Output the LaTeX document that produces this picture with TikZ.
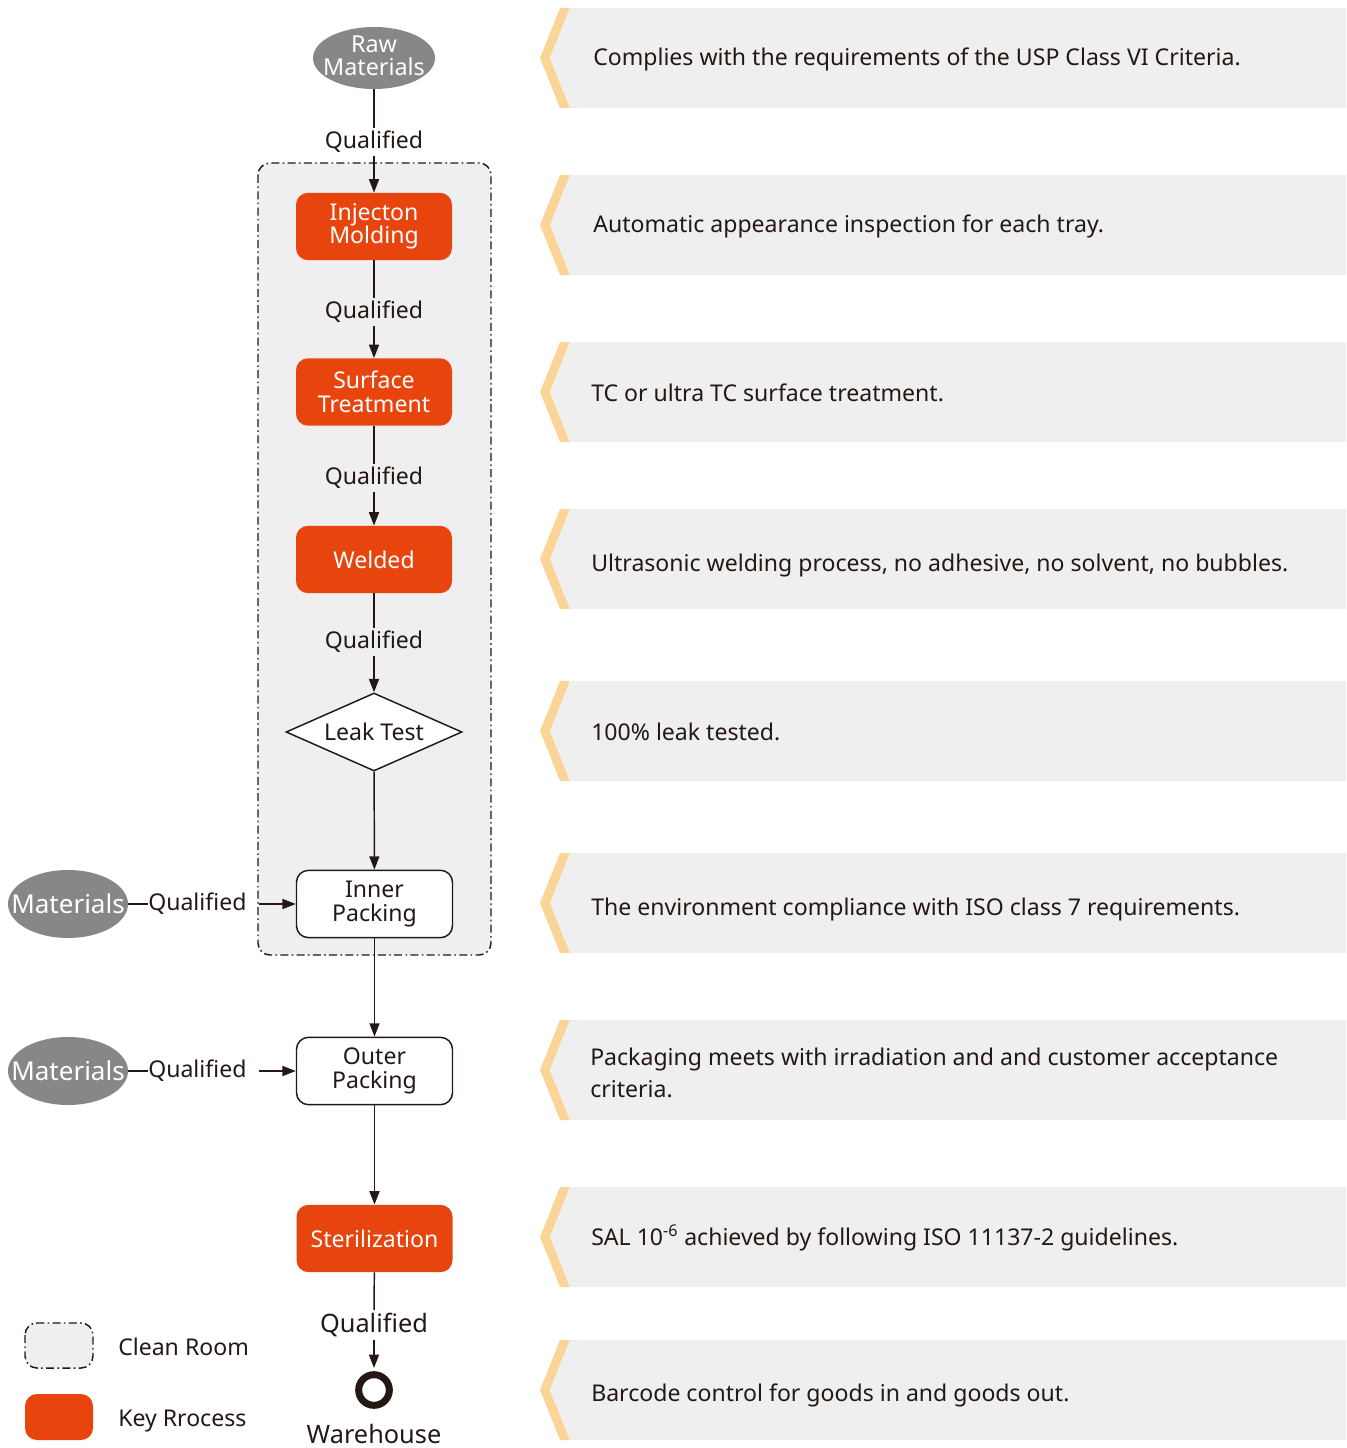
\documentclass[tikz,border=0pt]{standalone}
\usepackage{fontspec}
\setmainfont{Noto Sans}
\usetikzlibrary{shapes.geometric,arrows.meta}
\definecolor{keyor}{HTML}{E8450E}
\definecolor{panelgray}{HTML}{EEEFEE}
\definecolor{stripe}{HTML}{FAD597}
\definecolor{ellgray}{HTML}{878787}
\definecolor{dark}{HTML}{231815}
\tikzset{
  fnt/.style={font=\fontsize{17.3}{17.6}\selectfont},
  ptxt/.style={fnt, text=dark, anchor=west, inner sep=0pt, align=left},
  ellfill/.style={ellipse, fill=ellgray, inner sep=0pt, minimum width=#1},
  ellfill/.default=91.5pt,
  ell text/.style={font=\fontsize{17.5}{17.4}\selectfont, text=white, align=center, inner sep=0pt},
  keybox/.style={rectangle, rounded corners=9pt, fill=keyor, text=white, fnt, align=center, minimum width=117pt, minimum height=50.5pt, inner sep=0pt},
  whitebox/.style={rectangle, rounded corners=9pt, draw=dark, line width=1.1pt, fill=white, text=dark, fnt, align=center, minimum width=117pt, minimum height=50.5pt, inner sep=0pt},
  qlab/.style={fnt, text=dark, inner xsep=0pt, inner ysep=2pt},
  conn/.style={draw=dark, line width=1.1pt},
  arr/.style={conn, -{Triangle[length=10pt,width=7.5pt]}},
  cleanroom/.style={draw=dark, line width=1.1pt, fill=panelgray, rounded corners=9pt, dash pattern=on 6pt off 2.5pt on 1.2pt off 2.5pt},
  chev/.pic={
    \fill[stripe] (20,-50) -- (30,-50) -- (10,0) -- (30,50) -- (20,50) -- (0,0) -- cycle;
    \fill[panelgray] (30,-50) -- (806,-50) -- (806,50) -- (30,50) -- (10,0) -- cycle;
  }
}
\begin{document}
\begin{tikzpicture}[x=0.75pt,y=-0.75pt]
\useasboundingbox (0,0) rectangle (1346,1448);
% right panels
\pic at (540,58) {chev};
\pic at (540,225) {chev};
\pic at (540,392) {chev};
\pic at (540,559) {chev};
\pic at (540,731) {chev};
\pic at (540,903) {chev};
\pic at (540,1070) {chev};
\pic at (540,1237) {chev};
\pic at (540,1390) {chev};
\node[ptxt] (p1) at (593,59) {Complies with the requirements of the USP Class VI Criteria.};
\node[ptxt] (p2) at (593,226) {Automatic appearance inspection for each tray.};
\node[ptxt] (p3) at (591,393) {TC or ultra TC surface treatment.};
\node[ptxt] (p4) at (591,565) {Ultrasonic welding process, no adhesive, no solvent, no bubbles.};
\node[ptxt] (p5) at (591,732) {100\% leak tested.};
\node[ptxt] (p6) at (591,909) {The environment compliance with ISO class 7 requirements.};
\node[ptxt, font=\fontsize{17.3}{24}\selectfont] (p7) at (590,1073) {Packaging meets with irradiation and and customer acceptance\\criteria.};
\node[ptxt] (p8) at (591,1238) {SAL 10\textsuperscript{-6} achieved by following ISO 11137-2 guidelines.};
\node[ptxt] (p9) at (591,1395) {Barcode control for goods in and goods out.};
% clean room
\draw[cleanroom] (258,163) rectangle (491,955);
% flow nodes
\node[ellfill, minimum height=46.5pt] (raw) at (374,58) {};
\node[ell text] (rawt) at (374,55.5) {Raw\\Materials};
\node[qlab] (q1) at (374,142) {Qualified};
\node[keybox] (inj) at (374,226.5) {Injecton\\Molding};
\node[qlab] (q2) at (374,312) {Qualified};
\node[keybox] (surf) at (374,392) {Surface\\Treatment};
\node[qlab] (q3) at (374,478) {Qualified};
\node[keybox] (weld) at (374,559.5) {Welded};
\node[qlab] (q4) at (374,642) {Qualified};
\node[diamond, draw=dark, line width=1.1pt, fill=white, aspect=2.26, minimum width=132pt, minimum height=58.5pt, inner sep=0pt, fnt, text=dark] (leak) at (374,732) {Leak Test};
\node[whitebox] (inner) at (374.5,904) {Inner\\Packing};
\node[whitebox] (outer) at (374.5,1071) {Outer\\Packing};
\node[keybox] (ster) at (374.5,1238.5) {Sterilization};
\node[qlab, font=\fontsize{19}{20}\selectfont] (q5) at (374,1325) {Qualified};
\node[circle, draw=dark, line width=5.25pt, minimum size=23pt, inner sep=0pt] (wh) at (374,1390) {};
\node[font=\fontsize{19}{20}\selectfont, text=dark, inner sep=0pt, anchor=base] (whl) at (374,1443) {Warehouse};
% side materials
\node[ellfill=90pt, minimum height=51pt] (m1) at (68,904) {};
\node[ell text, font=\fontsize{19.5}{20}\selectfont] (m1t) at (m1) {Materials};
\node[qlab, anchor=west] (qm1) at (148,904) {Qualified};
\node[ellfill=90pt, minimum height=51pt] (m2) at (68,1071) {};
\node[ell text, font=\fontsize{19.5}{20}\selectfont] (m2t) at (m2) {Materials};
\node[qlab, anchor=west] (qm2) at (148,1071) {Qualified};
% connectors
\draw[conn] (raw) -- (q1);
\draw[arr] (q1) -- (inj);
\draw[conn] (inj) -- (q2);
\draw[arr] (q2) -- (surf);
\draw[conn] (surf) -- (q3);
\draw[arr] (q3) -- (weld);
\draw[conn] (weld) -- (q4);
\draw[arr] (q4) -- (leak);
\draw[arr] (leak) -- (inner);
\draw[arr] (inner) -- (outer);
\draw[arr] (outer) -- (ster);
\draw[conn] (ster) -- (q5);
\draw[arr, shorten >=2.4pt] (q5) -- (wh);
\draw[conn] (m1) -- (qm1);
\draw[arr] ([xshift=9pt]qm1.east) -- (inner);
\draw[conn] (m2) -- (qm2);
\draw[arr] ([xshift=9pt]qm2.east) -- (outer);
% legend
\draw[cleanroom] (25,1323) rectangle (93,1368);
\node[ptxt] (lg1) at (118,1347) {Clean Room};
\fill[keyor, rounded corners=9pt] (25,1394) rectangle (93,1440);
\node[ptxt] (lg2) at (118,1421) {Key Rrocess};
\end{tikzpicture}
\end{document}
